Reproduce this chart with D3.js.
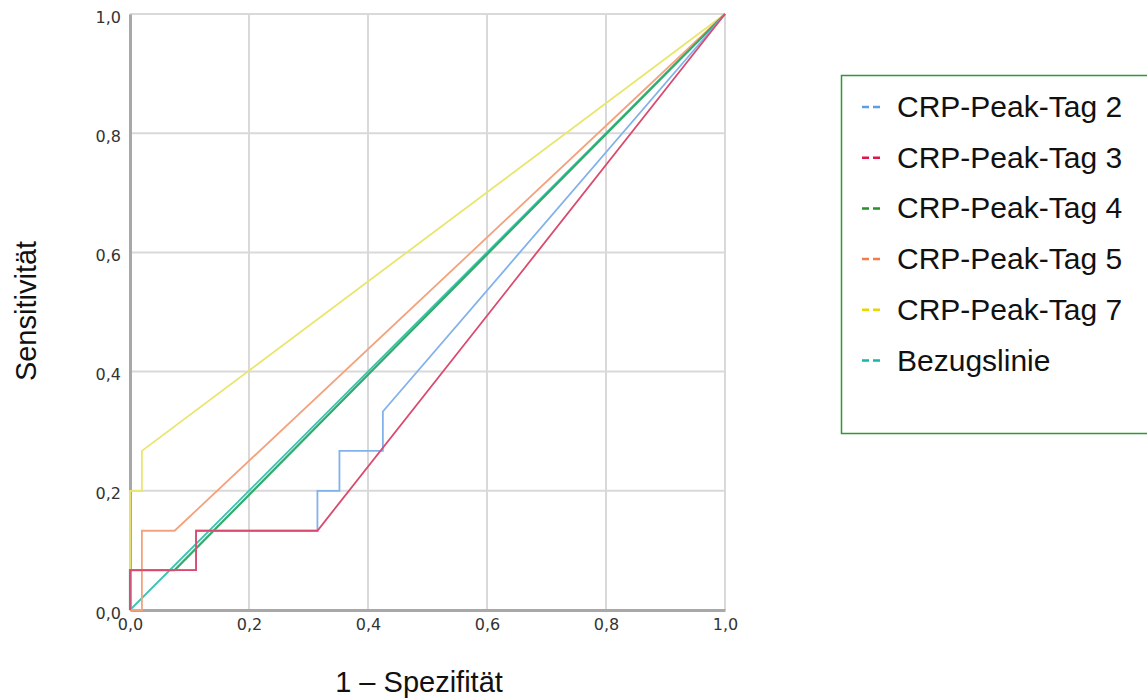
<!DOCTYPE html>
<html lang="de">
<head>
    <meta charset="utf-8">
    <title>ROC-Kurve CRP-Peak</title>
    <style>
        body { margin: 0; background: #fff; }
        .tick text { font-family: "DejaVu Sans", sans-serif; font-size: 16px; fill: #333; }
        .label { font-family: "Liberation Sans", Arial, sans-serif; font-size: 29px; fill: #111; }
        .legend-text { font-size: 30px; }
    </style>
    <script src="https://d3js.org/d3.v7.min.js"></script>
</head>
<body>
<div id="chart"></div>
<script>
    // ROC points [1 - Spezifität, Sensitivität]
    const tag2 = [[0, 0], [0, 0.067], [0.111, 0.067], [0.111, 0.133], [0.315, 0.133], [0.315, 0.2],
        [0.352, 0.2], [0.352, 0.267], [0.425, 0.267], [0.425, 0.333], [1, 1]];
    const tag3 = [[0, 0], [0, 0.067], [0.111, 0.067], [0.111, 0.133], [0.315, 0.133], [1, 1]];
    const tag4 = [[0, 0], [0, 0.067], [0.075, 0.067], [1, 1]];
    const tag5 = [[0, 0], [0.02, 0], [0.02, 0.133], [0.075, 0.133], [1, 1]];
    const tag7 = [[0, 0], [0, 0.2], [0.02, 0.2], [0.02, 0.267], [1, 1]];
    const bezug = [[0, 0], [1, 1]];

    const seriesNames = ["CRP-Peak-Tag 2", "CRP-Peak-Tag 3", "CRP-Peak-Tag 4", "CRP-Peak-Tag 5", "CRP-Peak-Tag 7", "Bezugslinie"];
    const seriesData = [tag2, tag3, tag4, tag5, tag7, bezug];
    const lineColors = ["#82b2ec", "#da4a6e", "#2fad6c", "#f4a27d", "#e9e66e", "#3cc2b0"];
    const legendColors = ["#5b9ee8", "#e3164c", "#2b8f2b", "#f37c4a", "#e8d800", "#17b8a3"];
    const ticks = [0, 0.2, 0.4, 0.6, 0.8, 1.0];

    const W = 1147, H = 700;
    const margin = {top: 14, left: 130},
        width = 595,
        height = 596;

    const root = d3.select("#chart")
        .append("svg")
        .attr("width", W)
        .attr("height", H);

    const svg = root.append("g")
        .attr("transform", `translate(${margin.left},${margin.top})`);

    const x = d3.scaleLinear().domain([0, 1]).range([0, width]);
    const y = d3.scaleLinear().domain([0, 1]).range([height, 0]);
    const fmt = d => d3.format(".1f")(d).replace(".", ",");

    // grid
    svg.append("g")
        .selectAll("line.vgrid")
        .data(ticks)
        .join("line")
        .attr("x1", d => x(d)).attr("x2", d => x(d))
        .attr("y1", 0).attr("y2", height)
        .attr("stroke", "#d9d9d9").attr("stroke-width", 2);
    svg.append("g")
        .selectAll("line.hgrid")
        .data(ticks)
        .join("line")
        .attr("x1", 0).attr("x2", width)
        .attr("y1", d => y(d)).attr("y2", d => y(d))
        .attr("stroke", "#d9d9d9").attr("stroke-width", 2);

    // axes
    const xAxis = svg.append("g")
        .attr("transform", `translate(0,${height})`)
        .call(d3.axisBottom(x).tickValues(ticks).tickFormat(fmt).tickSize(0).tickPadding(9));
    xAxis.select(".domain").attr("stroke", "#a8a8a8").attr("stroke-width", 3);

    const yAxis = svg.append("g")
        .call(d3.axisLeft(y).tickValues(ticks).tickFormat(fmt).tickSize(0).tickPadding(9));
    yAxis.select(".domain").attr("stroke", "#a8a8a8").attr("stroke-width", 3);
    yAxis.selectAll(".tick text").attr("dy", "0.5em");

    // curves
    const line = d3.line().x(d => x(d[0])).y(d => y(d[1]));
    const order = [5, 4, 3, 2, 0, 1];
    order.forEach(i => {
        svg.append("path")
            .datum(seriesData[i])
            .attr("fill", "none")
            .attr("stroke", lineColors[i])
            .attr("stroke-width", i === 2 ? 2.2 : 1.8)
            .attr("d", line);
    });

    // axis titles
    root.append("text")
        .attr("class", "label")
        .attr("text-anchor", "middle")
        .attr("x", 419)
        .attr("y", 692)
        .text("1 – Spezifität");

    root.append("text")
        .attr("class", "label")
        .attr("text-anchor", "middle")
        .attr("transform", "translate(36,311) rotate(-90)")
        .text("Sensitivität");

    // legend
    const legend = root.append("g").attr("transform", "translate(841,75)");
    legend.append("rect")
        .attr("x", 0.5).attr("y", 0.5)
        .attr("width", 340).attr("height", 358)
        .attr("fill", "#fff")
        .attr("stroke", "#2e9a2e")
        .attr("stroke-width", 1.5);

    const item = legend.selectAll("g.item")
        .data(seriesNames)
        .join("g")
        .attr("transform", (d, i) => `translate(0,${32 + i * 50.7})`);
    item.append("line")
        .attr("x1", 21).attr("x2", 39)
        .attr("y1", 0).attr("y2", 0)
        .attr("stroke", (d, i) => legendColors[i])
        .attr("stroke-width", 2.5)
        .attr("stroke-dasharray", "7,4");
    item.append("text")
        .attr("class", "label legend-text")
        .attr("x", 56)
        .attr("y", 10)
        .text(d => d);
</script>
</body>
</html>
